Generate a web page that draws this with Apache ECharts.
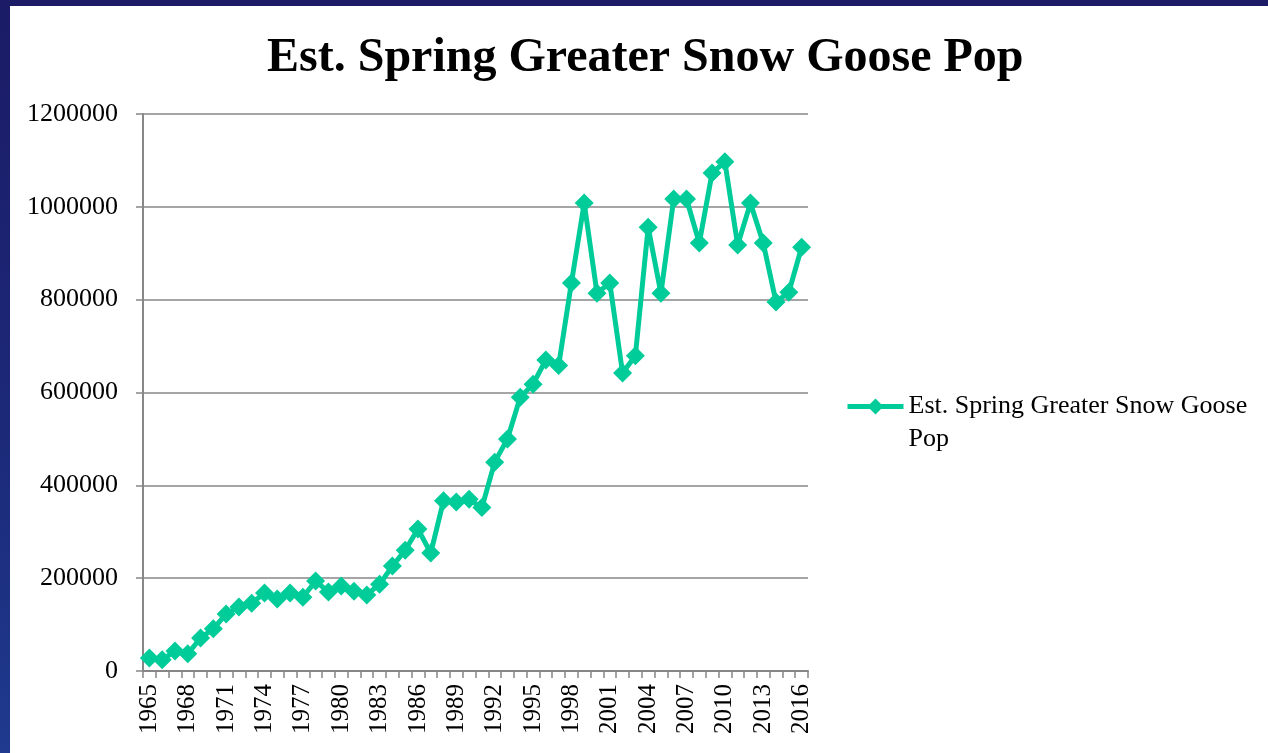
<!DOCTYPE html>
<html>
<head>
<meta charset="utf-8">
<script src="https://cdn.jsdelivr.net/npm/echarts@6/dist/echarts.min.js"></script>
<style>
  html, body { margin: 0; padding: 0; width: 1268px; height: 753px; overflow: hidden;
    background: linear-gradient(to bottom, #1b1b66 0%, #1c2a7a 60%, #1f3a8e 100%); }
  #main { position: absolute; left: 10px; top: 6px; width: 1258px; height: 747px; background: #ffffff; }
</style>
</head>
<body>
<div id="main"></div>
<script>
const titleText = 'Est. Spring Greater Snow Goose Pop';
const seriesName = 'Est. Spring Greater Snow Goose Pop';
const legendLines = ['', 'Est. Spring Greater Snow Goose', 'Pop'];
const years = [];
for (let y = 1965; y <= 2016; y++) years.push(String(y));
const population = [
  28000, 24000, 43000, 37000, 71000, 91000, 123000, 138000, 146000, 168000,
  155000, 168000, 159000, 194000, 170000, 183000, 172000, 164000, 187000, 226000,
  260000, 306000, 254000, 367000, 364000, 370000, 352000, 450000, 500000, 590000,
  618000, 670000, 658000, 836000, 1008000, 814000, 836000, 642000, 679000, 956000,
  814000, 1017000, 1017000, 922000, 1073000, 1097000, 918000, 1008000, 922000, 795000,
  816000, 913000
];
const yMin = 0, yMax = 1200000, yStep = 200000;

const font = '"Liberation Serif", "Times New Roman", serif';
const gridColor = '#878787';
const lineColor = '#00cc99';

const chart = echarts.init(document.getElementById('main'), null, { renderer: 'canvas' });
chart.setOption({
  animation: false,
  backgroundColor: '#ffffff',
  title: {
    text: titleText,
    left: 257,
    top: 29,
    padding: 0,
    textStyle: { fontFamily: font, fontSize: 48, fontWeight: 'bold', color: '#000000' }
  },
  legend: {
    left: 835,
    top: 351,
    padding: 0,
    orient: 'vertical',
    itemWidth: 56,
    itemHeight: 20,
    formatter: () => legendLines.join('\n'),
    lineStyle: { width: 5, color: lineColor },
    itemStyle: { color: lineColor },
    textStyle: { fontFamily: font, fontSize: 26, color: '#000000', lineHeight: 33 },
    data: [seriesName]
  },
  grid: { left: 133, top: 108, right: 460, bottom: 82, containLabel: false },
  xAxis: {
    type: 'category',
    data: years,
    boundaryGap: true,
    axisLine: { lineStyle: { color: gridColor, width: 2 } },
    axisTick: { show: true, interval: 0, length: 7, alignWithLabel: false, lineStyle: { color: gridColor, width: 1.5 } },
    axisLabel: { interval: 2, rotate: 90, margin: 13, fontFamily: font, fontSize: 25, color: '#000000' },
    splitLine: { show: false }
  },
  yAxis: {
    type: 'value',
    min: yMin, max: yMax, interval: yStep,
    axisLine: { show: true, lineStyle: { color: gridColor, width: 2 } },
    axisTick: { show: true, length: 7, lineStyle: { color: gridColor, width: 1.5 } },
    axisLabel: { margin: 25, fontFamily: font, fontSize: 26, color: '#000000', formatter: v => String(v) },
    splitLine: { show: true, lineStyle: { color: gridColor, width: 1.5 } }
  },
  series: [{
    name: seriesName,
    type: 'line',
    data: population,
    symbol: 'diamond',
    symbolSize: 19,
    showAllSymbol: true,
    lineStyle: { color: lineColor, width: 5 },
    itemStyle: { color: lineColor },
    emphasis: { disabled: true }
  }]
});
</script>
</body>
</html>
